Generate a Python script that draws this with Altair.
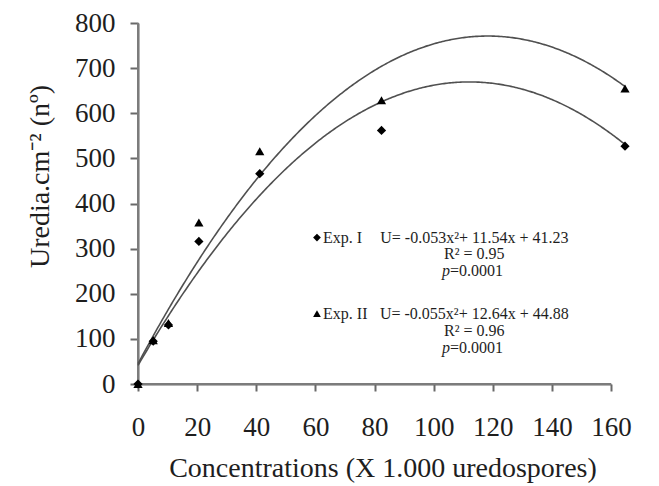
import altair as alt
import pandas as pd

# ---- data ----
concentrations = [0, 5, 10, 20, 40, 80, 160]
exp1_uredia = [0, 95, 131, 316, 466, 562, 527]
exp2_uredia = [0, 97, 135, 358, 516, 629, 655]
series_names = ["Exp. I", "Exp. II"]
series_shapes = ["diamond", "triangle-up"]
coef_a = [-0.053, -0.055]
coef_b = [11.54, 12.64]
coef_c = [41.23, 44.88]
eq_text = ["U= -0.053x²+ 11.54x + 41.23", "U= -0.055x²+ 12.64x + 44.88"]
r2_text = ["R² = 0.95", "R² = 0.96"]
p_value_text = ["=0.0001", "=0.0001"]
x_tick_labels = [0, 20, 40, 60, 80, 100, 120, 140, 160]
y_ticks = [0, 100, 200, 300, 400, 500, 600, 700, 800]

# annotation anchor positions (data units)
ann_marker_x = 58.8
ann_label_x = 60.8
ann_center_x = 110.5
ann_p_split_x = 102.5
ann_eq_y = [324.6, 156.0]
ann_r2_y = [289.0, 118.3]
ann_p_y = [251.4, 80.6]

# ---- layout / style ----
X_END = 155.4          # scale end in data units at the right end of the axis line
Y_END = 800
W, H = 473, 361
FONT = "Liberation Serif"
TXT = "#1e1e1e"
AX = "dimgray"
X_TITLE = "Concentrations (X 1.000 uredospores)"
Y_TITLE = "Uredia.cm⁻² (nº)"

x_scale = alt.Scale(domain=[0, X_END], nice=False, zero=False)
y_scale = alt.Scale(domain=[0, Y_END], nice=False)

x_axis = alt.Axis(
    values=[v * X_END / 160 for v in x_tick_labels],
    labelExpr=f"round(datum.value * 160 / {X_END})",
    grid=False,
    domainColor=AX, domainWidth=2, tickColor=AX, tickWidth=2,
    tickSize=7, labelFont=FONT, labelFontSize=27, labelColor=TXT,
    labelPadding=23, labelBaseline="top", labelFlush=False,
    titleFont=FONT, titleFontSize=28, titleFontWeight="normal", titleColor=TXT,
    titleX=244.5, titleY=84, titleBaseline="middle", titleAlign="center",
)
y_axis = alt.Axis(
    values=y_ticks, grid=False,
    domainColor=AX, domainWidth=2, tickColor=AX,
    tickWidth=2, tickSize=8, labelFont=FONT, labelFontSize=27, labelColor=TXT,
    labelPadding=15, labelBaseline="middle", labelFlush=False,
    titleFont=FONT, titleFontSize=28, titleFontWeight="normal", titleColor=TXT,
    titleX=-98, titleY=153, titleBaseline="middle", titleAlign="center", titleAngle=270,
)


def xenc(field):
    return alt.X(field, type="quantitative", scale=x_scale, axis=x_axis, title=X_TITLE)


def yenc(field):
    return alt.Y(field, type="quantitative", scale=y_scale, axis=y_axis, title=Y_TITLE)


shape_scale = alt.Scale(domain=series_names, range=series_shapes)

# axis lines drawn as rules along the scale domains (backup for the axis domain)
xline_df = pd.DataFrame({"x": [0], "x2": [X_END], "y": [0]})
yline_df = pd.DataFrame({"x": [0], "y": [0], "y2": [Y_END]})
x_line = alt.Chart(xline_df).mark_rule(color="#7c7c7c", strokeWidth=2).encode(
    x=xenc("x"), x2="x2:Q", y=yenc("y"))
y_line = alt.Chart(yline_df).mark_rule(color="#7c7c7c", strokeWidth=2).encode(
    x=xenc("x"), y=yenc("y"), y2="y2:Q")

# points
points_df = pd.DataFrame({
    "conc": concentrations * 2,
    "uredia": exp1_uredia + exp2_uredia,
    "exp": [series_names[0]] * len(concentrations) + [series_names[1]] * len(concentrations),
})
points = alt.Chart(points_df).mark_point(filled=True, color="#000000", size=85, opacity=1).encode(
    x=xenc("conc"), y=yenc("uredia"),
    shape=alt.Shape("exp:N", scale=shape_scale, legend=None),
)

# fitted curves (from the printed regression equations)
curves = []
for a, b, c in zip(coef_a, coef_b, coef_c):
    curves.append(
        alt.Chart(alt.sequence(0, 160.01, 0.5, as_="x"))
        .transform_calculate(y=f"({a})*datum.x*datum.x + ({b})*datum.x + ({c})")
        .mark_line(color="#505050", strokeWidth=1.6)
        .encode(x=xenc("x"), y=yenc("y"))
    )

# annotation legend markers
ann_pts_df = pd.DataFrame({"x": [ann_marker_x] * 2, "y": ann_eq_y, "exp": series_names})
ann_pts = alt.Chart(ann_pts_df).mark_point(filled=True, color="#000000", size=60, opacity=1).encode(
    x=xenc("x"), y=yenc("y"),
    shape=alt.Shape("exp:N", scale=shape_scale, legend=None),
)

left_df = pd.DataFrame({
    "x": [ann_label_x, ann_label_x, ann_p_split_x, ann_p_split_x],
    "y": ann_eq_y + ann_p_y,
    "t": series_names + p_value_text,
})
center_df = pd.DataFrame({
    "x": [ann_center_x] * 4,
    "y": ann_eq_y + ann_r2_y,
    "t": eq_text + r2_text,
})
right_df = pd.DataFrame({"x": [ann_p_split_x] * 2, "y": ann_p_y, "t": ["p", "p"]})

txt_left = alt.Chart(left_df).mark_text(align="left", baseline="middle", font=FONT, fontSize=16, color=TXT).encode(
    x=xenc("x"), y=yenc("y"), text="t:N")
txt_center = alt.Chart(center_df).mark_text(align="center", baseline="middle", font=FONT, fontSize=16, color=TXT).encode(
    x=xenc("x"), y=yenc("y"), text="t:N")
txt_right = alt.Chart(right_df).mark_text(align="right", baseline="middle", font=FONT, fontSize=16,
                                          fontStyle="italic", color=TXT).encode(
    x=xenc("x"), y=yenc("y"), text="t:N")

chart = (
    alt.layer(x_line, y_line, *curves, points, ann_pts, txt_left, txt_center, txt_right)
    .properties(
        width=W, height=H,
        autosize=alt.AutoSizeParams(type="none"),
        padding={"left": 130, "top": 15, "right": 40, "bottom": 100},
        background="white",
    )
    .configure_view(stroke=None)
)

chart.save("out.html", embed_options={"renderer": "svg", "actions": False})
